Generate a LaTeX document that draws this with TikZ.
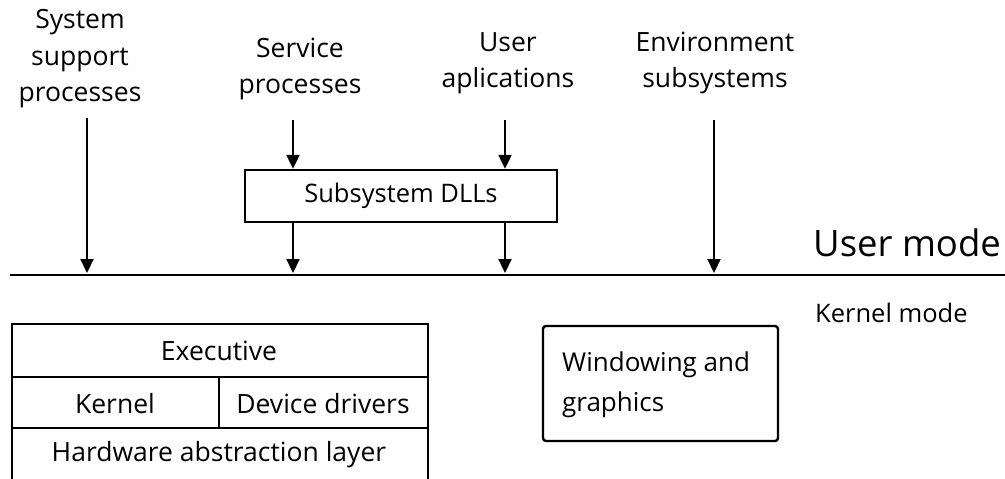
\documentclass[tikz,border=0pt]{standalone}
\usepackage{fontspec}
\setmainfont{Open Sans}
\usetikzlibrary{arrows.meta}
\begin{document}
\begin{tikzpicture}[x=1pt,y=-1pt,
  lbl/.style={font=\fontsize{26.5}{36.5}\selectfont, align=center, inner sep=0pt},
  arr/.style={line width=2.2pt, -{Triangle[width=13pt,length=14pt]}},
  box/.style={draw, line width=2.4pt},
  ln/.style={line width=2.4pt}]
\useasboundingbox (0,0) rectangle (1005,479);
% top labels
\node[lbl] (ssp) at (80,59) {System\\support\\processes};
\node[lbl] (svc) at (300,69) {Service\\processes};
\node[lbl] (usr) at (508,63) {User\\aplications};
\node[lbl] (env) at (715,63) {Environment\\subsystems};
% DLL box
\node[box, minimum width=312pt, minimum height=52pt, font=\fontsize{25.5}{30}\selectfont] (dll) at (401,196) {Subsystem DLLs};
% mode line
\coordinate (mlL) at (10,275);
\coordinate (mlR) at (1005,275);
\draw[ln] (mlL) -- (mlR);
\node[anchor=west, inner sep=0pt, font=\fontsize{36.5}{42}\selectfont] (um) at (813,243) {User mode};
\node[anchor=west, inner sep=0pt, font=\fontsize{25.5}{30}\selectfont] (km) at (815,313) {Kernel mode};
% arrow coordinates
\coordinate (a1t) at (87,118);  \coordinate (a1b) at (87,273);
\coordinate (a2t) at (293,120); \coordinate (a2b) at (293,273);
\coordinate (a3t) at (505,120); \coordinate (a3b) at (505,273);
\coordinate (a4t) at (714,120); \coordinate (a4b) at (714,273);
\draw[arr] (a1t) -- (a1b);
\draw[arr] (a2t) -- (a2t |- dll.north);
\draw[arr] (a3t) -- (a3t |- dll.north);
\draw[arr] (a2t |- dll.south) -- (a2b);
\draw[arr] (a3t |- dll.south) -- (a3b);
\draw[arr] (a4t) -- (a4b);
% kernel block
\coordinate (kb1) at (12,324);
\coordinate (kb2) at (428,324);
\coordinate (kb3) at (12,482);
\coordinate (kb4) at (428,482);
\draw[ln] (kb3) -- (kb1) -- (kb2) -- (kb4);
\draw[ln] (12,377) -- (428,377);
\draw[ln] (12,428) -- (428,428);
\draw[ln] (219,377) -- (219,428);
\node[lbl] (exe) at (219,351) {Executive};
\node[lbl] (ker) at (115,404) {Kernel};
\node[lbl] (dev) at (323,404) {Device drivers};
\node[lbl] (hal) at (219,455) {Hardware abstraction layer};
% windowing
\draw[ln, rounded corners=3pt] (543,326) rectangle (778,441);
\node[font=\fontsize{26}{40}\selectfont, inner sep=0pt, align=left, anchor=west] (win) at (562,385) {Windowing and\\graphics};
\end{tikzpicture}
\end{document}
